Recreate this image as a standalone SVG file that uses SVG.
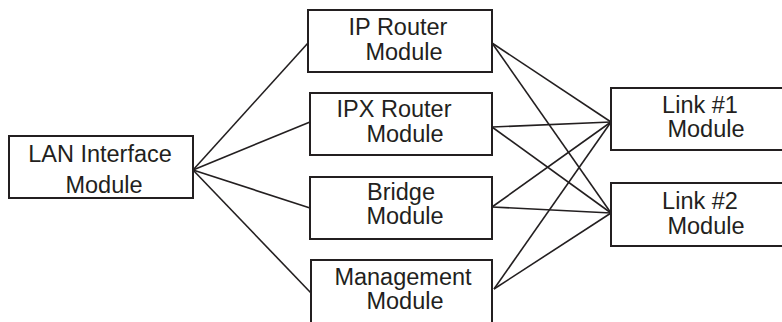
<svg xmlns="http://www.w3.org/2000/svg" width="782" height="322" viewBox="0 0 782 322">
<style>
.box{fill:#fff;stroke:#231f20;stroke-width:2}
.t{font-family:"Liberation Sans",Arial,sans-serif;font-size:23.5px;fill:#231f20;text-anchor:middle}
.c line{stroke:#231f20;stroke-width:1.6}
</style>
<rect width="782" height="322" fill="#fff"/>
<g class="c" id="connectors">
<line x1="193" y1="170" x2="308" y2="43"/>
<line x1="193" y1="170" x2="310" y2="122"/>
<line x1="193" y1="170" x2="310" y2="208"/>
<line x1="193" y1="170" x2="311" y2="293"/>
<line x1="492" y1="43" x2="611" y2="122"/>
<line x1="492" y1="43" x2="611" y2="213"/>
<line x1="492" y1="127" x2="611" y2="122"/>
<line x1="492" y1="127" x2="611" y2="213"/>
<line x1="492" y1="207" x2="611" y2="122"/>
<line x1="492" y1="207" x2="611" y2="213"/>
<line x1="494" y1="289" x2="611" y2="122"/>
<line x1="494" y1="289" x2="611" y2="213"/>
</g>
<g id="lan"><rect class="box" x="9" y="136" width="184" height="62"/>
<text class="t" x="100" y="162">LAN Interface</text><text class="t" x="104" y="193">Module</text></g>
<g id="ip"><rect class="box" x="308" y="10" width="184" height="62"/>
<text class="t" x="398" y="35">IP Router</text><text class="t" x="404" y="60">Module</text></g>
<g id="ipx"><rect class="box" x="310" y="93" width="182" height="62"/>
<text class="t" x="394" y="117">IPX Router</text><text class="t" x="405" y="142">Module</text></g>
<g id="bridge"><rect class="box" x="310" y="177" width="182" height="62"/>
<text class="t" x="401" y="200">Bridge</text><text class="t" x="405" y="224">Module</text></g>
<g id="mgmt"><rect class="box" x="311" y="260" width="181" height="70"/>
<text class="t" x="403" y="285">Management</text><text class="t" x="405" y="309">Module</text></g>
<g id="link1"><rect class="box" x="611" y="88" width="180" height="62"/>
<text class="t" x="700" y="113">Link #1</text><text class="t" x="706" y="137">Module</text></g>
<g id="link2"><rect class="box" x="611" y="183" width="180" height="63"/>
<text class="t" x="700" y="209">Link #2</text><text class="t" x="706" y="234">Module</text></g>
</svg>
